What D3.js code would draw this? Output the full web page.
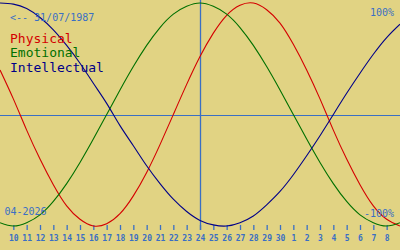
<!DOCTYPE html>
<html>
<head>
<meta charset="utf-8">
<script src="https://cdn.jsdelivr.net/npm/d3@7"></script>
<style>
  html, body { margin: 0; padding: 0; background: #e1d383; }
  svg { display: block; }
  text { font-family: "DejaVu Sans Mono", monospace; }
</style>
</head>
<body>
<svg id="chart"></svg>
<script>
const width = 400;
const height = 250;

// days shown: 9 April 2026 .. 9 May 2026
const startDay = Date.UTC(2026, 3, 9);
const endDay = Date.UTC(2026, 4, 9);
const today = Date.UTC(2026, 3, 24);

// one value per day (-1 .. 1)
const physical = [0.40, 0.14, -0.14, -0.40, -0.63, -0.82, -0.94, -1.00, -0.98, -0.89, -0.73,
    -0.52, -0.27, 0.00, 0.27, 0.52, 0.73, 0.89, 0.98, 1.00, 0.94, 0.82, 0.63, 0.40, 0.14,
    -0.14, -0.40, -0.63, -0.82, -0.94, -1.00];
const emotional = [-0.97, -1.00, -0.97, -0.90, -0.78, -0.62, -0.43, -0.22, 0.00, 0.22, 0.43,
    0.62, 0.78, 0.90, 0.97, 1.00, 0.97, 0.90, 0.78, 0.62, 0.43, 0.22, 0.00, -0.22, -0.43,
    -0.62, -0.78, -0.90, -0.97, -1.00, -0.97];
const intellectual = [1.00, 0.99, 0.95, 0.87, 0.76, 0.62, 0.46, 0.28, 0.10, -0.10, -0.28,
    -0.46, -0.62, -0.76, -0.87, -0.95, -0.99, -1.00, -0.97, -0.91, -0.81, -0.69, -0.54, -0.37,
    -0.19, 0.00, 0.19, 0.37, 0.54, 0.69, 0.81];

const seriesNames = ["Physical", "Emotional", "Intellectual"];
const seriesColors = ["#d40000", "#007000", "#000088"];
const birthLabel = "<-- 31/07/1987";
const monthLabel = "04-2026";
const topLabel = "100%";
const bottomLabel = "-100%";

const days = d3.utcDay.range(startDay, endDay + 1);
const tickDays = d3.utcDay.range(Date.UTC(2026, 3, 10), endDay);

const x = d3.scaleUtc().domain([startDay, endDay]).range([0, width]);
const y = d3.scaleLinear().domain([-1, 1]).range([226, 3]);

const blue = "#3a6fc4";

const svg = d3.select("#chart")
    .attr("width", width)
    .attr("height", height)
    .attr("viewBox", [0, 0, width, height]);

svg.append("rect")
    .attr("width", width)
    .attr("height", height)
    .attr("fill", "#e1d383");

// zero line and today line
svg.append("line")
    .attr("x1", 0)
    .attr("x2", width)
    .attr("y1", Math.round(y(0)) + 0.5)
    .attr("y2", Math.round(y(0)) + 0.5)
    .attr("stroke", blue)
    .attr("stroke-width", 1);

svg.append("line")
    .attr("x1", Math.round(x(today)) + 0.5)
    .attr("x2", Math.round(x(today)) + 0.5)
    .attr("y1", 0)
    .attr("y2", 230)
    .attr("stroke", blue)
    .attr("stroke-width", 1.3);

// day axis
const xAxis = g => g
    .attr("transform", "translate(0,225)")
    .call(d3.axisBottom(x)
        .tickValues(tickDays)
        .tickFormat(d3.utcFormat("%-d"))
        .tickSize(5)
        .tickPadding(5))
    .call(g => g.select(".domain").remove())
    .call(g => g.selectAll(".tick line").attr("stroke", blue).attr("stroke-width", 1.3))
    .call(g => g.selectAll(".tick text")
        .attr("fill", blue)
        .attr("font-family", "DejaVu Sans Mono, monospace")
        .attr("font-size", 8)
        .attr("font-weight", "bold"));

svg.append("g").call(xAxis);

// curves
const line = d3.line()
    .x((d, i) => x(days[i]))
    .y(d => y(d))
    .curve(d3.curveNatural);

[physical, emotional, intellectual].forEach((values, i) => {
    svg.append("path")
        .datum(values)
        .attr("d", line)
        .attr("fill", "none")
        .attr("stroke", seriesColors[i])
        .attr("stroke-width", 1.1);
});

// labels
svg.append("text")
    .attr("x", 10)
    .attr("y", 20.5)
    .attr("font-size", 10)
    .attr("fill", blue)
    .text(birthLabel);

svg.append("text")
    .attr("x", 394)
    .attr("y", 16)
    .attr("text-anchor", "end")
    .attr("font-size", 10)
    .attr("fill", blue)
    .text(topLabel);

svg.append("text")
    .attr("x", 394)
    .attr("y", 217)
    .attr("text-anchor", "end")
    .attr("font-size", 10)
    .attr("fill", blue)
    .text(bottomLabel);

svg.append("text")
    .attr("x", 4.5)
    .attr("y", 215)
    .attr("font-size", 10)
    .attr("fill", blue)
    .text(monthLabel);

seriesNames.forEach((name, i) => {
    svg.append("text")
        .attr("x", 10)
        .attr("y", 42.5 + i * 14.7)
        .attr("font-size", 13)
        .attr("fill", seriesColors[i])
        .text(name);
});
</script>
</body>
</html>
